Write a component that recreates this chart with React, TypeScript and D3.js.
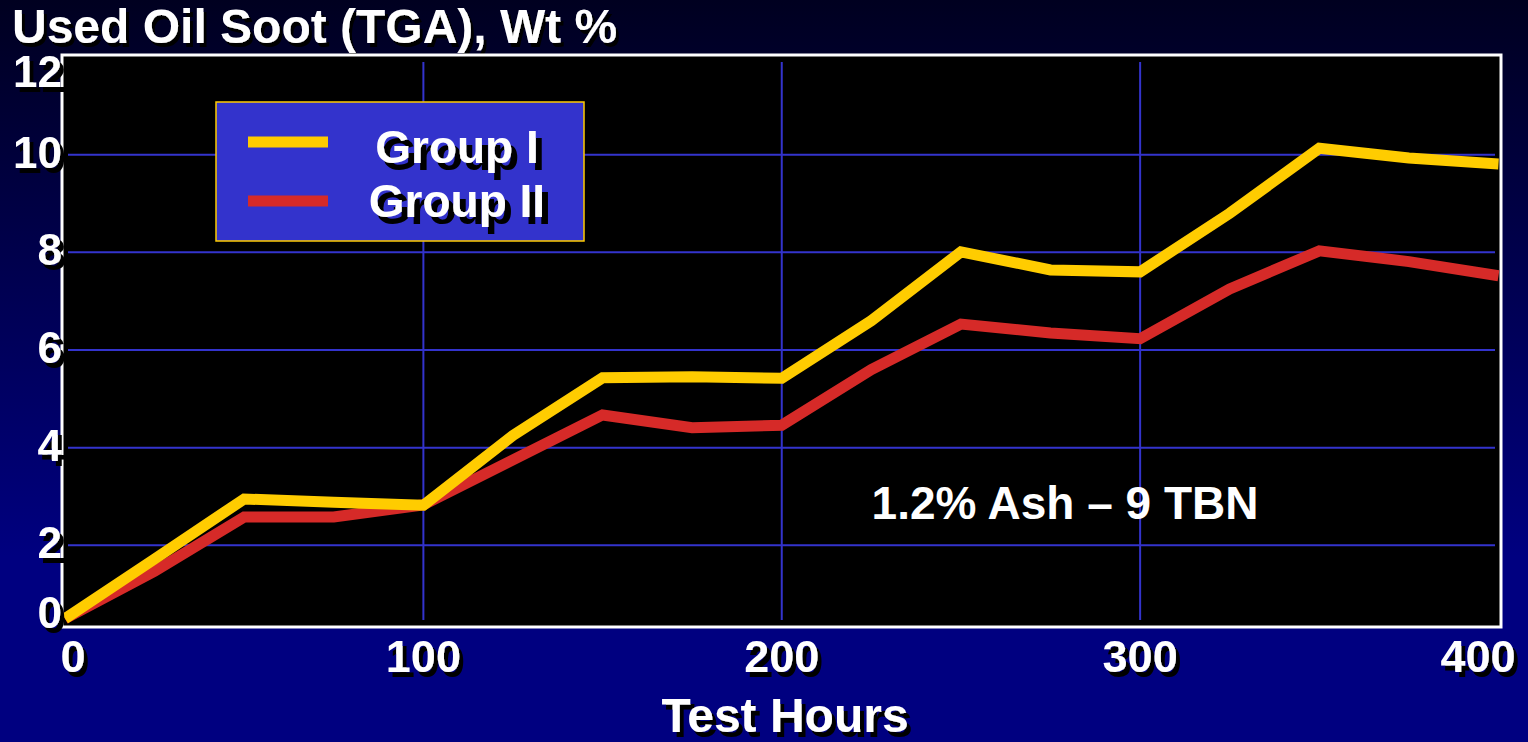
import React from 'react'
import * as d3 from 'd3'

const hours = [0, 25, 50, 75, 100, 125, 150, 175, 200, 225, 250, 275, 300, 325, 350, 375, 400]
const groupI = [0.5, 1.72, 2.95, 2.88, 2.82, 4.25, 5.43, 5.45, 5.42, 6.6, 8.01, 7.64, 7.6, 8.8, 10.13, 9.93, 9.81]
const groupII = [0.5, 1.47, 2.58, 2.58, 2.83, 3.75, 4.67, 4.41, 4.46, 5.6, 6.53, 6.35, 6.23, 7.25, 8.03, 7.81, 7.52]
const xTicks = [0, 100, 200, 300, 400]
const yTicks = [0, 2, 4, 6, 8, 10, 12]
const seriesNames = ['Group I', 'Group II']
const seriesColors = ['#ffcc00', '#d62a28']

const W = 1528
const H = 742
const font = '"Liberation Sans", Arial, sans-serif'

// frame of the black plot area
const box = { left: 62, right: 1501, top: 55, bottom: 627 }

// white bold text with a hard black drop shadow (svg filter, so one text node each)
const Shadowed = ({ x, y, size, anchor, shadow, children }: any) => (
  <text x={x} y={y} fill="#fff" fontFamily={font} fontWeight="bold" fontSize={size}
    textAnchor={anchor} filter={`url(#${shadow})`}>{children}</text>
)

const App = () => {
  const x = d3.scaleLinear().domain([0, 400]).range([65, 1498.5])
  const y = d3.scaleLinear().domain([0, 12]).range([643, 57])

  const line = d3.line<number>()
    .x((_, i) => x(hours[i]))
    .y(d => y(d))

  const series = [groupI, groupII]

  return (
    <>
      <style>{`body{margin:0;}`}</style>
      <svg width={W} height={H} style={{ display: 'block' }}>
        <defs>
          <linearGradient id="bg" x1="0" y1="0" x2="0" y2="1">
            <stop offset="0%" stopColor="#000020" />
            <stop offset="75%" stopColor="#000080" />
            <stop offset="100%" stopColor="#000080" />
          </linearGradient>
          <clipPath id="plotClip">
            <rect x={box.left} y={box.top} width={box.right - box.left} height={box.bottom - box.top} />
          </clipPath>
          <filter id="sh3" x="-5%" y="-20%" width="115%" height="160%">
            <feDropShadow dx={3} dy={4} stdDeviation={0} floodColor="#000" floodOpacity={1} />
          </filter>
          <filter id="sh4" x="-10%" y="-20%" width="130%" height="160%">
            <feDropShadow dx={4} dy={5} stdDeviation={0} floodColor="#000" floodOpacity={1} />
          </filter>
          <filter id="sh6" x="-10%" y="-20%" width="130%" height="160%">
            <feDropShadow dx={6} dy={7} stdDeviation={0} floodColor="#000" floodOpacity={1} />
          </filter>
        </defs>
        <rect width={W} height={H} fill="url(#bg)" />

        <Shadowed x={12} y={43} size={48} anchor="start" shadow="sh3">Used Oil Soot (TGA), Wt %</Shadowed>

        <rect x={box.left} y={box.top} width={box.right - box.left} height={box.bottom - box.top}
          fill="#000" stroke="#fff" strokeWidth={3} />

        {/* grid */}
        {yTicks.filter(v => v > 0 && v < 12).map(v => (
          <line key={'gy' + v} x1={box.left + 6} x2={box.right - 6} y1={y(v)} y2={y(v)}
            stroke="#3333cc" strokeWidth={2} />
        ))}
        {xTicks.filter(v => v > 0 && v < 400).map(v => (
          <line key={'gx' + v} x1={x(v)} x2={x(v)} y1={box.top + 7} y2={box.bottom - 7}
            stroke="#3333cc" strokeWidth={2} />
        ))}

        <g clipPath="url(#plotClip)">
          {series.map((s, i) => (
            <path key={seriesNames[i]} d={line(s) || ''} fill="none" stroke={seriesColors[i]}
              strokeWidth={11} strokeLinejoin="miter" />
          )).reverse()}
        </g>

        {/* legend */}
        <rect x={216} y={102} width={368} height={139} fill="#3333cc" stroke="#ffcc00" strokeWidth={1.5} />
        {seriesNames.map((name, i) => (
          <g key={name}>
            <line x1={248} x2={328} y1={142 + i * 59} y2={142 + i * 59} stroke={seriesColors[i]} strokeWidth={11} />
            <Shadowed x={457} y={163 + i * 54} size={46} anchor="middle" shadow="sh6">{name}</Shadowed>
          </g>
        ))}

        <text x={1065} y={519} fill="#fff" fontFamily={font} fontWeight="bold" fontSize={46}
          textAnchor="middle">1.2% Ash – 9 TBN</text>

        {/* axis labels */}
        {yTicks.map(v => (
          <Shadowed key={'ty' + v} x={62} y={Math.min(628, Math.max(87, y(v) + 13))}
            size={44} anchor="end" shadow="sh4">{v}</Shadowed>
        ))}
        {xTicks.map(v => (
          <Shadowed key={'tx' + v} x={Math.min(1478, Math.max(73, x(v)))} y={672}
            size={45} anchor="middle" shadow="sh4">{v}</Shadowed>
        ))}
        <Shadowed x={785} y={732} size={48} anchor="middle" shadow="sh4">Test Hours</Shadowed>
      </svg>
    </>
  )
}

export default App
